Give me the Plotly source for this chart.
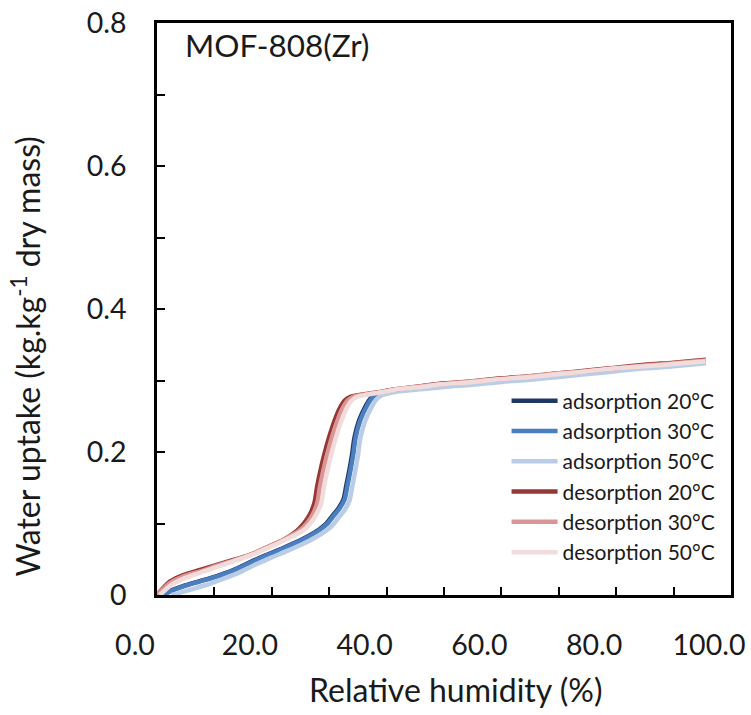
import plotly.graph_objects as go

# ---- data (relative humidity %, water uptake kg/kg) ----
ads20_x = [0.8, 2.1, 4.4, 7.3, 10.3, 13.1, 16.0, 18.8, 21.8, 24.3, 26.5, 28.3, 29.4, 30.6, 31.6, 32.5, 33.0, 33.5, 34.0, 34.4, 35.2, 36.4, 37.3, 38.1, 39.3, 40.5, 45, 50, 55, 60, 65, 70, 75, 80, 85, 90, 95.6]
ads20_y = [0.000, 0.005, 0.012, 0.019, 0.026, 0.034, 0.045, 0.055, 0.065, 0.074, 0.083, 0.092, 0.099, 0.111, 0.121, 0.134, 0.154, 0.174, 0.197, 0.220, 0.244, 0.265, 0.276, 0.281, 0.284, 0.286, 0.289, 0.293, 0.296, 0.300, 0.303, 0.307, 0.311, 0.315, 0.319, 0.322, 0.326]

ads30_x = [1.0, 2.3, 4.6, 7.5, 10.5, 13.3, 16.2, 19.0, 22.0, 24.5, 26.7, 28.5, 29.6, 30.8, 31.8, 32.7, 33.2, 33.7, 34.2, 34.6, 35.4, 36.6, 37.5, 38.3, 39.5, 40.7, 45, 50, 55, 60, 65, 70, 75, 80, 85, 90, 95.6]
ads30_y = [0.000, 0.005, 0.012, 0.019, 0.026, 0.034, 0.045, 0.055, 0.065, 0.074, 0.083, 0.092, 0.099, 0.111, 0.121, 0.134, 0.154, 0.174, 0.197, 0.220, 0.244, 0.265, 0.276, 0.281, 0.284, 0.286, 0.289, 0.293, 0.296, 0.300, 0.303, 0.307, 0.311, 0.315, 0.319, 0.322, 0.326]

ads50_x = [2.5, 4.0, 6.0, 8.5, 11.3, 14.2, 17.0, 19.8, 22.8, 25.3, 27.5, 29.3, 30.4, 31.6, 32.6, 33.5, 34.0, 34.5, 35.0, 35.4, 36.2, 37.4, 38.3, 39.1, 40.3, 41.5, 45, 50, 55, 60, 65, 70, 75, 80, 85, 90, 95.6]
ads50_y = [0.000, 0.003, 0.008, 0.014, 0.022, 0.031, 0.042, 0.052, 0.062, 0.071, 0.080, 0.089, 0.096, 0.108, 0.118, 0.131, 0.151, 0.172, 0.195, 0.218, 0.242, 0.263, 0.274, 0.279, 0.282, 0.284, 0.287, 0.291, 0.294, 0.298, 0.301, 0.305, 0.309, 0.313, 0.317, 0.320, 0.324]

des20_x = [0.0, 2.3, 4.6, 7.5, 10.4, 13.3, 16.2, 19.0, 22.0, 24.4, 25.6, 26.6, 27.4, 27.9, 28.5, 29.2, 30.0, 30.9, 31.9, 32.7, 33.6, 35.5, 38.0, 42.0, 46.0, 50, 55, 60, 65, 70, 75, 80, 85, 90, 95.6]
des20_y = [0.000, 0.019, 0.028, 0.035, 0.042, 0.049, 0.056, 0.066, 0.077, 0.090, 0.100, 0.112, 0.128, 0.152, 0.175, 0.198, 0.221, 0.243, 0.262, 0.272, 0.277, 0.280, 0.283, 0.288, 0.292, 0.296, 0.299, 0.303, 0.306, 0.310, 0.314, 0.318, 0.322, 0.325, 0.329]

des30_x = [0.0, 2.3, 4.6, 7.5, 10.4, 13.3, 16.2, 19.0, 22.0, 24.8, 26.1, 27.1, 27.9, 28.4, 29.0, 29.7, 30.5, 31.4, 32.4, 33.2, 34.1, 35.9, 38.3, 42.0, 46.0, 50, 55, 60, 65, 70, 75, 80, 85, 90, 95.6]
des30_y = [0.000, 0.017, 0.026, 0.033, 0.041, 0.048, 0.056, 0.066, 0.077, 0.090, 0.100, 0.112, 0.128, 0.152, 0.175, 0.198, 0.221, 0.243, 0.262, 0.272, 0.277, 0.280, 0.283, 0.288, 0.292, 0.295, 0.299, 0.302, 0.306, 0.310, 0.313, 0.317, 0.321, 0.324, 0.328]

des50_x = [0.5, 2.6, 4.9, 7.8, 10.7, 13.6, 16.5, 19.3, 22.3, 25.4, 26.7, 27.7, 28.6, 29.1, 29.7, 30.4, 31.2, 32.1, 33.1, 33.9, 34.8, 36.4, 38.6, 42.3, 46.0, 50, 55, 60, 65, 70, 75, 80, 85, 90, 95.6]
des50_y = [0.000, 0.015, 0.024, 0.032, 0.040, 0.048, 0.056, 0.066, 0.077, 0.090, 0.100, 0.112, 0.128, 0.152, 0.175, 0.198, 0.221, 0.243, 0.262, 0.272, 0.277, 0.280, 0.283, 0.288, 0.291, 0.295, 0.298, 0.302, 0.305, 0.309, 0.313, 0.317, 0.320, 0.323, 0.327]

series_names = ["adsorption 20°C", "adsorption 30°C", "adsorption 50°C",
                "desorption 20°C", "desorption 30°C", "desorption 50°C"]
series_colors = ["#1f3864", "#4a7ebf", "#b9cde8", "#953735", "#d99694", "#f2dcdb"]

y_tickvals = [0, 0.2, 0.4, 0.6, 0.8]
y_ticktext = ["0", "0.2", "0.4", "0.6", "0.8"]
x_tickvals = [0, 20, 40, 60, 80, 100]
x_ticktext = ["0.0", "20.0", "40.0", "60.0", "80.0", "100.0"]

FONT = "Lato"
TXT = "#1a1a1a"

xs = [ads20_x, ads30_x, ads50_x, des20_x, des30_x, des50_x]
ys = [ads20_y, ads30_y, ads50_y, des20_y, des30_y, des50_y]

fig = go.Figure()
for name, col, x, y in zip(series_names, series_colors, xs, ys):
    fig.add_trace(go.Scatter(x=x, y=y, mode="lines", name=name,
                             line=dict(color=col, width=4.5, shape="spline", smoothing=0.8)))

fig.update_layout(
    width=751, height=715,
    margin=dict(l=157, r=20, t=23, b=120, autoexpand=False),
    paper_bgcolor="white", plot_bgcolor="white",
    font=dict(family=FONT, size=28, color=TXT),
    showlegend=True,
    legend=dict(x=0.609, y=0.375, xanchor="left", yanchor="top",
                bgcolor="rgba(0,0,0,0)", font=dict(family=FONT, size=21, color=TXT),
                itemwidth=46, tracegroupgap=0),
)
fig.update_xaxes(range=[0, 100], automargin=False, showline=True, linecolor="black", linewidth=2.5, mirror=True,
                 ticks="inside", ticklen=8, tickwidth=1.5, tickcolor="black",
                 tickvals=x_tickvals, ticktext=x_ticktext, ticklabelshift=-22, ticklabelstandoff=23,
                 ticklabeloverflow="allow",
                 minor=dict(dtick=10, tick0=0, ticks="inside", ticklen=8, tickwidth=1.5, tickcolor="black"),
                 showgrid=False, zeroline=False, tickfont=dict(family=FONT, size=28.5, color=TXT))
fig.update_yaxes(range=[0, 0.8], automargin=False, showline=True, linecolor="black", linewidth=2.5, mirror=True,
                 ticks="inside", ticklen=8, tickwidth=1.5, tickcolor="black",
                 tickvals=y_tickvals, ticktext=y_ticktext, ticklabelstandoff=22,
                 ticklabeloverflow="allow",
                 minor=dict(dtick=0.1, tick0=0, ticks="inside", ticklen=8, tickwidth=1.5, tickcolor="black"),
                 showgrid=False, zeroline=False, tickfont=dict(family=FONT, size=28.5, color=TXT))

fig.add_annotation(text="MOF-808(Zr)", xref="paper", yref="paper", x=0.045, y=0.999,
                   xanchor="left", yanchor="top", showarrow=False,
                   font=dict(family=FONT, size=31.5, color=TXT))
fig.add_annotation(text="Relative humidity (%)", xref="paper", yref="paper", x=0.52, y=-0.165,
                   xanchor="center", yanchor="middle", showarrow=False,
                   font=dict(family=FONT, size=32, color=TXT))
fig.add_annotation(text="Water uptake (kg.kg<sup>-1</sup> dry mass)", xref="paper", yref="paper",
                   x=-0.228, y=0.417, xanchor="center", yanchor="middle", textangle=-90, showarrow=False,
                   font=dict(family=FONT, size=32, color=TXT))

# remove the default 8px page margin so the 751x715 figure fills the window exactly
fig.write_html("out.html", config={"displayModeBar": False},
               post_script="document.body.style.margin='0';document.body.style.overflow='hidden';")
